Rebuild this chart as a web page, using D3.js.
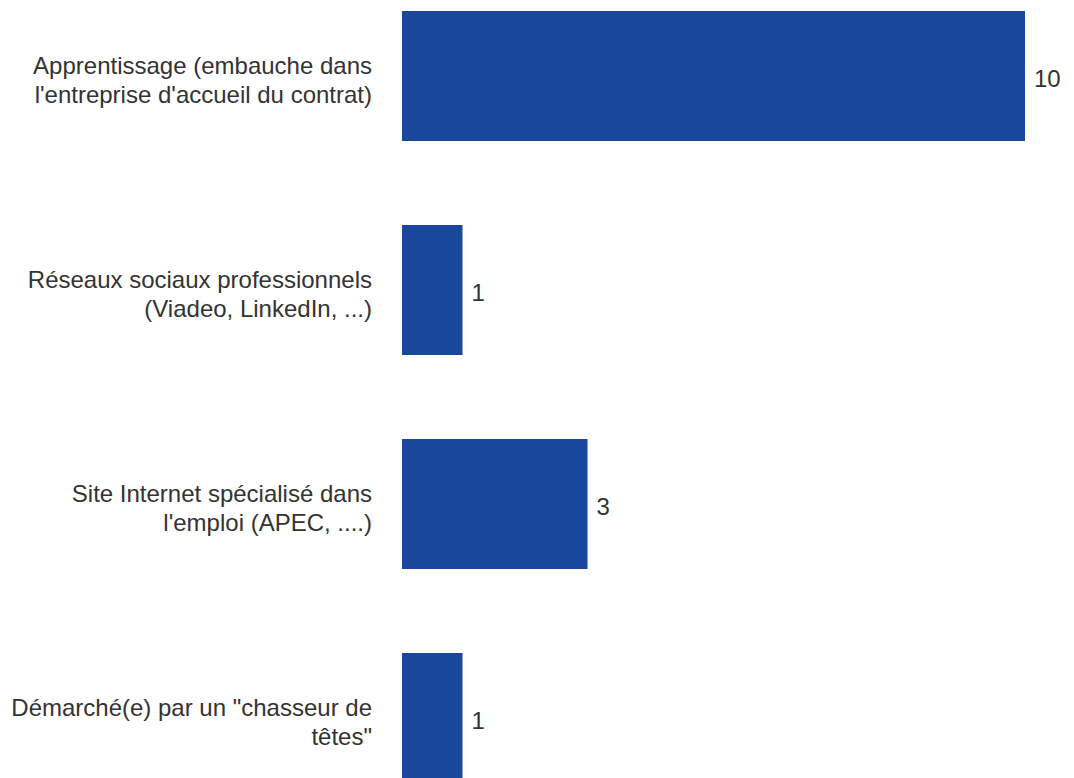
<!DOCTYPE html>
<html>
<head>
<meta charset="utf-8">
<script src="https://cdn.jsdelivr.net/npm/d3@7"></script>
<style>
  body { margin: 0; background: #fff; }
  text { font-family: "Liberation Sans", Arial, sans-serif; fill: #333; }
</style>
</head>
<body>
<div class="chart"></div>
<script>
// chart data
var categories = [
  ["Apprentissage (embauche dans", "l'entreprise d'accueil du contrat)"],
  ["Réseaux sociaux professionnels", "(Viadeo, LinkedIn, ...)"],
  ["Site Internet spécialisé dans", "l'emploi (APEC, ....)"],
  ["Démarché(e) par un \"chasseur de", "têtes\""]
];
var values = [10, 1, 3, 1];

var svgWidth = 1074;
var svgHeight = 778;
var barLeft = 402;

var svg = d3.select(".chart")
  .append("svg")
  .attr("width", svgWidth)
  .attr("height", svgHeight);

var idx = d3.range(values.length);

// band scale for categories
var yScale = d3.scaleBand()
  .domain(idx)
  .range([-31, 825])
  .paddingInner(0.3925)
  .paddingOuter(0.19625);

var xScale = d3.scaleLinear()
  .domain([0, 10])
  .range([barLeft - 2, barLeft + 623]);

var chart = svg.append("g");

chart.selectAll("rect")
  .data(idx)
  .enter()
  .append("rect")
  .attr("x", barLeft)
  .attr("y", function(i) { return yScale(i); })
  .attr("width", function(i) { return xScale(values[i]) - barLeft; })
  .attr("height", yScale.bandwidth())
  .attr("fill", "#19479c");

// value labels
chart.selectAll(".value")
  .data(idx)
  .enter()
  .append("text")
  .attr("class", "value")
  .attr("x", function(i) { return xScale(values[i]) + 9; })
  .attr("y", function(i) { return yScale(i) + yScale.bandwidth() / 2 + 10.5; })
  .style("font-size", "24px")
  .text(function(i) { return values[i]; });

// category labels, two lines each
var labels = chart.selectAll(".cat")
  .data(idx)
  .enter()
  .append("text")
  .attr("class", "cat")
  .attr("text-anchor", "end")
  .style("font-size", "24px");

labels.selectAll("tspan")
  .data(function(i) {
    return categories[i].map(function(line, k) {
      return {line: line, k: k, y: yScale(i) + yScale.bandwidth() / 2};
    });
  })
  .enter()
  .append("tspan")
  .attr("x", 372)
  .attr("y", function(d) { return d.y - 2.5 + d.k * 29; })
  .text(function(d) { return d.line; });
</script>
</body>
</html>
